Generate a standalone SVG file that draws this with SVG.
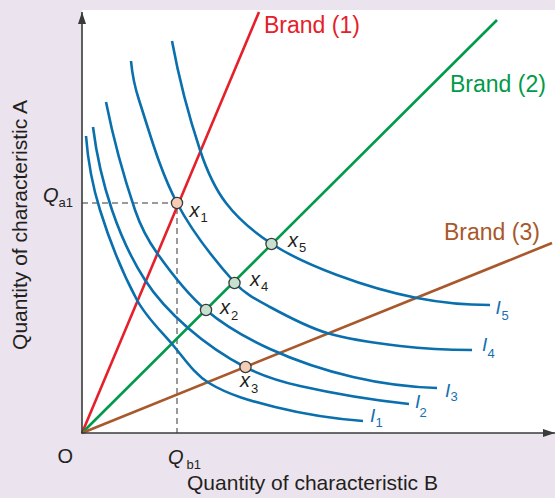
<svg xmlns="http://www.w3.org/2000/svg" width="555" height="498" viewBox="0 0 555 498">
<style>
  .txt{font-family:"Liberation Sans",Arial,sans-serif;fill:#231f20}
  .it{font-style:italic}
  .brand{font-family:"Liberation Sans",Arial,sans-serif;font-size:23px}
  .ic{fill:none;stroke:#0a6fad;stroke-width:2.6;stroke-linecap:butt}
  .il{font-family:"Liberation Sans",Arial,sans-serif;fill:#1470b3}
  .bl{fill:none;stroke-width:2.6}
  .axis{stroke:#3a3a3a;stroke-width:1.6;fill:none}
  .dash{stroke:#7a7a7a;stroke-width:1.5;stroke-dasharray:6 4;fill:none}
  .pt{stroke:#3a3a3a;stroke-width:1.3}
  .peach{fill:#f3cdb8}
  .mint{fill:#c6e1cf}
</style>
<defs>
  <marker id="arr" viewBox="0 0 12 8" refX="12" refY="4" markerWidth="12" markerHeight="8" markerUnits="userSpaceOnUse" orient="auto">
    <path d="M0,0 L12,4 L0,8 z" fill="#3a3a3a"/>
  </marker>
</defs>
<rect x="0" y="0" width="555" height="498" fill="#ebe3ee"/>
<rect x="82" y="10" width="473" height="423" fill="#ffffff"/>

<g id="guides">
  <path class="dash" d="M82,203 H177 V433"/>
</g>

<g id="connectors">
  <line id="brand1-line" class="bl" x1="82" y1="433" x2="259" y2="12" stroke="#e5202a"/>
  <line id="brand2-line" class="bl" x1="82" y1="433" x2="497" y2="20" stroke="#009a4a"/>
  <line id="brand3-line" class="bl" x1="82" y1="433" x2="552" y2="243" stroke="#a8582b"/>
  <path id="I1-curve" class="ic" d="M86,136 C87.9,161 92.5,186 100,210 C109.6,240.9 121.7,271.5 137,300 C145.8,316.5 159.8,329.9 172,344 C183.7,357.5 193.7,373.7 209,383 C229,395.2 252.3,401.4 275,407 C303.8,414.1 333.4,418.8 363,421"/>
  <path id="I2-curve" class="ic" d="M93,127 C96.5,155.2 102.9,183.1 112,210 C120.3,234.4 131,258.3 145,280 C156.6,298.1 171.8,313.9 188,328 C205.4,343.1 224.6,356.4 245,367 C262.2,375.9 281.1,381.7 300,386 C335.9,394.1 372.4,400.1 409,404"/>
  <path id="I3-curve" class="ic" d="M106,102 C113.3,138.6 123.1,174.7 135,210 C140.2,225.2 147.7,239.9 157,253 C171.5,273.5 186.9,293.8 206,310 C225.1,326.2 247.3,338.6 270,349 C296.6,361.1 324.6,370.4 353,377 C380.5,383.4 408.8,387.1 437,388"/>
  <path id="I4-curve" class="ic" d="M131,61 C132.2,74.2 134.9,87.4 139,100 C150.3,134.8 160,170.6 177,203 C192.3,232.2 213.1,258.5 235,283 C244.4,293.5 257.6,300.3 270,307 C288.4,317 307,327 327,333 C350.7,340.1 375.5,343.1 400,346 C423.8,348.8 448,350 472,350"/>
  <path id="I5-curve" class="ic" d="M172,41 C178.8,77.8 188.2,114.4 200,150 C206.2,168.7 214,187.4 226,203 C238.5,219.3 254.8,232.8 272,244 C292.1,257.1 314.5,266.6 337,275 C363,284.7 389.8,292.7 417,298 C440.9,302.7 465.6,305 490,305"/>
</g>

<g id="axes">
  <line class="axis" x1="82" y1="433" x2="82" y2="12" marker-end="url(#arr)"/>
  <line class="axis" x1="81" y1="433" x2="555" y2="433" marker-end="url(#arr)"/>
</g>

<g id="node-x1">
  <circle class="pt peach" cx="177" cy="203" r="5.6"/>
  <text class="txt it" font-size="20"><tspan x="189.5" y="217">x</tspan><tspan font-style="normal" font-size="13" x="200.5" y="222">1</tspan></text>
</g>
<g id="node-x2">
  <circle class="pt mint" cx="206" cy="310" r="5.6"/>
  <text class="txt it" font-size="20"><tspan x="220" y="314">x</tspan><tspan font-style="normal" font-size="13" x="231" y="320">2</tspan></text>
</g>
<g id="node-x3">
  <circle class="pt peach" cx="245.5" cy="367" r="5.6"/>
  <text class="txt it" font-size="20"><tspan x="240" y="387">x</tspan><tspan font-style="normal" font-size="13" x="251" y="393">3</tspan></text>
</g>
<g id="node-x4">
  <circle class="pt mint" cx="234.5" cy="283" r="5.6"/>
  <text class="txt it" font-size="20"><tspan x="250" y="286">x</tspan><tspan font-style="normal" font-size="13" x="261" y="291">4</tspan></text>
</g>
<g id="node-x5">
  <circle class="pt mint" cx="271.5" cy="244" r="5.6"/>
  <text class="txt it" font-size="20"><tspan x="288" y="247">x</tspan><tspan font-style="normal" font-size="13" x="299" y="252">5</tspan></text>
</g>

<g id="brand-labels">
  <text class="brand" x="264" y="33" fill="#e5202a">Brand (1)</text>
  <text class="brand" x="450" y="92" fill="#009a4a">Brand (2)</text>
  <text class="brand" x="444" y="240" fill="#a8582b">Brand (3)</text>
</g>

<g id="curve-labels">
  <text class="il it" font-size="19"><tspan x="370" y="422">I</tspan><tspan font-style="normal" font-size="13" x="375.5" y="427">1</tspan></text>
  <text class="il it" font-size="19"><tspan x="415" y="408">I</tspan><tspan font-style="normal" font-size="13" x="419.5" y="417">2</tspan></text>
  <text class="il it" font-size="19"><tspan x="445" y="397">I</tspan><tspan font-style="normal" font-size="13" x="450.5" y="401">3</tspan></text>
  <text class="il it" font-size="19"><tspan x="482" y="351">I</tspan><tspan font-style="normal" font-size="13" x="487.5" y="358">4</tspan></text>
  <text class="il it" font-size="19"><tspan x="495.5" y="314">I</tspan><tspan font-style="normal" font-size="13" x="501.5" y="320">5</tspan></text>
</g>

<g id="axis-labels">
  <text class="txt" font-size="20" x="57.5" y="463">O</text>
  <text class="txt it" font-size="20"><tspan x="43" y="202">Q</tspan><tspan font-style="normal" font-size="13" x="58.5" y="207">a1</tspan></text>
  <text class="txt it" font-size="20"><tspan x="168" y="464">Q</tspan><tspan font-style="normal" font-size="13" x="186.5" y="469">b1</tspan></text>
  <text class="txt" font-size="21" x="312.5" y="490" text-anchor="middle">Quantity of characteristic B</text>
  <text class="txt" font-size="21" text-anchor="middle" transform="translate(27,225) rotate(-90)">Quantity of characteristic A</text>
</g>
</svg>
